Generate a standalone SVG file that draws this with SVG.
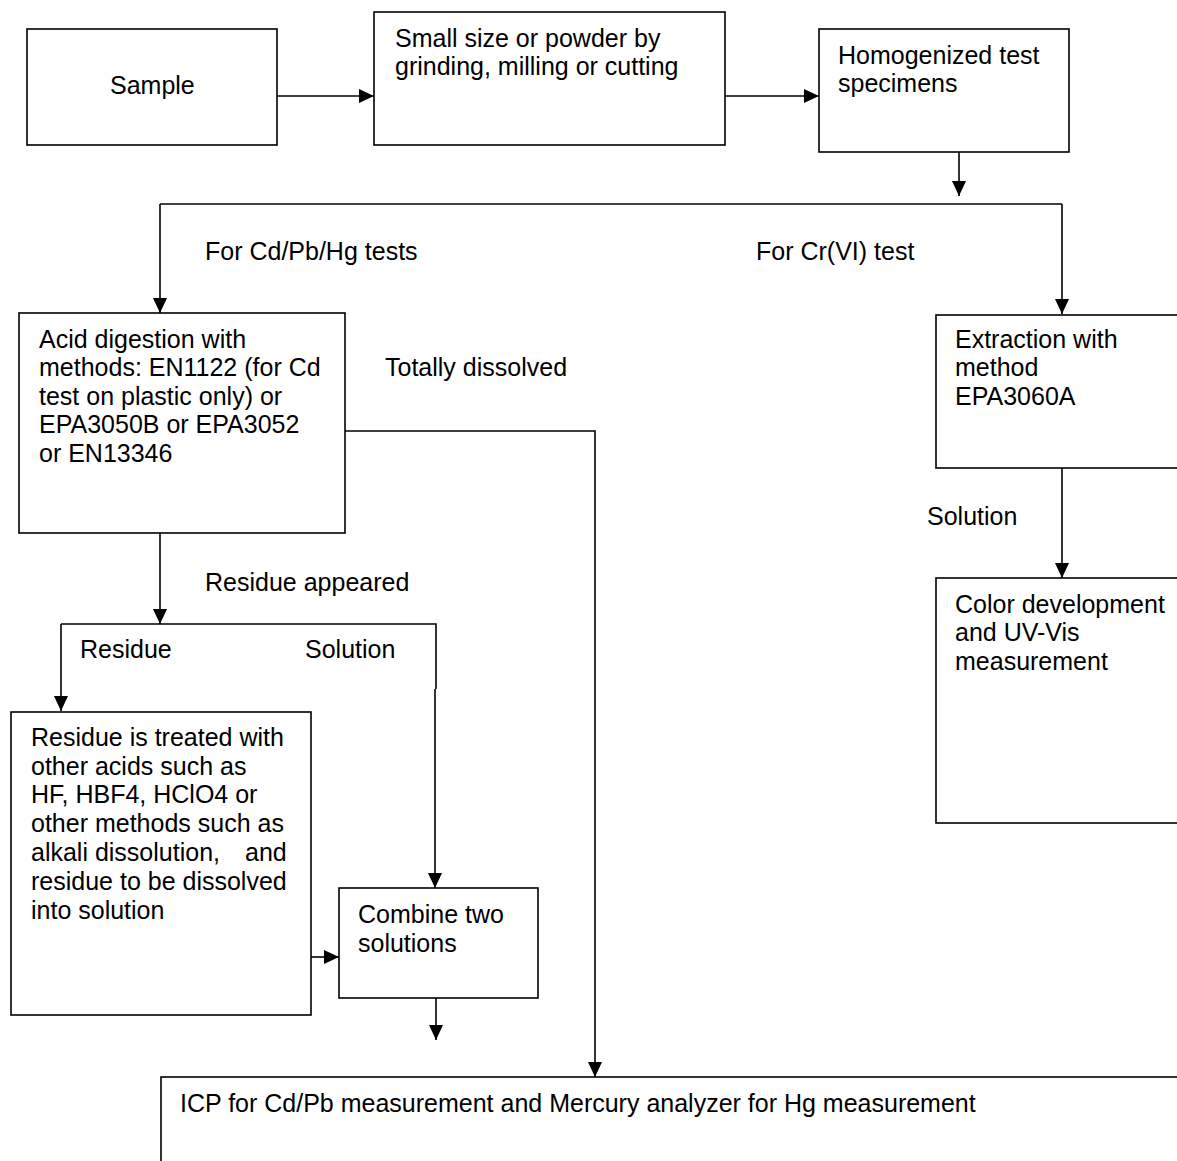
<svg xmlns="http://www.w3.org/2000/svg" width="1177" height="1161" viewBox="0 0 1177 1161">
<style>
.box{fill:#fff;stroke:#000;stroke-width:1.6}
.ln{fill:none;stroke:#000;stroke-width:1.6}
text{font-family:"Liberation Sans",Arial,sans-serif;font-size:25px;fill:#000}
</style>
<defs>
<marker id="ah" markerUnits="userSpaceOnUse" markerWidth="16" markerHeight="14" refX="15" refY="7" orient="auto">
<path d="M0,0 L15,7 L0,14 Z" fill="#000"/>
</marker>
</defs>
<rect width="1177" height="1161" fill="#fff"/>
<g id="connectors">
<line class="ln" x1="277" y1="96" x2="374" y2="96" marker-end="url(#ah)"/>
<line class="ln" x1="725" y1="96" x2="819" y2="96" marker-end="url(#ah)"/>
<line class="ln" x1="959" y1="152" x2="959" y2="196" marker-end="url(#ah)"/>
<line class="ln" x1="160" y1="204" x2="1062" y2="204"/>
<line class="ln" x1="160" y1="204" x2="160" y2="313" marker-end="url(#ah)"/>
<line class="ln" x1="1062" y1="204" x2="1062" y2="314" marker-end="url(#ah)"/>
<polyline class="ln" points="345,431 595,431 595,1077" marker-end="url(#ah)"/>
<line class="ln" x1="1062" y1="468" x2="1062" y2="578" marker-end="url(#ah)"/>
<line class="ln" x1="160" y1="533" x2="160" y2="624" marker-end="url(#ah)"/>
<polyline class="ln" points="61,624 436,624 436,689"/>
<line class="ln" x1="61" y1="624" x2="61" y2="711" marker-end="url(#ah)"/>
<line class="ln" x1="435" y1="689" x2="435" y2="888" marker-end="url(#ah)"/>
<line class="ln" x1="311" y1="957" x2="339" y2="957" marker-end="url(#ah)"/>
<line class="ln" x1="436" y1="998" x2="436" y2="1040" marker-end="url(#ah)"/>
<text x="205" y="259.5">For Cd/Pb/Hg tests</text>
<text x="756" y="259.5">For Cr(VI) test</text>
<text x="385" y="375.5">Totally dissolved</text>
<text x="927" y="524.5">Solution</text>
<text x="205" y="590.5">Residue appeared</text>
<text x="80" y="657.5">Residue</text>
<text x="305" y="657.5">Solution</text>
</g>
<g id="sample">
<rect class="box" x="27" y="29" width="250" height="116"/>
<text x="110" y="93.5">Sample</text>
</g>
<g id="grinding">
<rect class="box" x="374" y="12" width="351" height="133"/>
<text x="395" y="46.5">Small size or powder by</text>
<text x="395" y="74.5">grinding, milling or cutting</text>
</g>
<g id="homogenized">
<rect class="box" x="819" y="29" width="250" height="123"/>
<text x="838" y="63.5">Homogenized test</text>
<text x="838" y="91.5">specimens</text>
</g>
<g id="acid-digestion">
<rect class="box" x="19" y="313" width="326" height="220"/>
<text x="39" y="347.5">Acid digestion with</text>
<text x="39" y="376">methods: EN1122 (for Cd</text>
<text x="39" y="404.5">test on plastic only) or</text>
<text x="39" y="433">EPA3050B or EPA3052</text>
<text x="39" y="461.5">or EN13346</text>
</g>
<g id="extraction">
<rect class="box" x="936" y="315" width="250" height="153"/>
<text x="955" y="347.5">Extraction with</text>
<text x="955" y="376">method</text>
<text x="955" y="404.5">EPA3060A</text>
</g>
<g id="color-development">
<rect class="box" x="936" y="578" width="250" height="245"/>
<text x="955" y="612.5">Color development</text>
<text x="955" y="641">and UV-Vis</text>
<text x="955" y="669.5">measurement</text>
</g>
<g id="residue-treatment">
<rect class="box" x="11" y="712" width="300" height="303"/>
<text x="31" y="745.5">Residue is treated with</text>
<text x="31" y="774.5">other acids such as</text>
<text x="31" y="803">HF, HBF4, HClO4 or</text>
<text x="31" y="832">other methods such as</text>
<text x="31" y="860.5">alkali dissolution,<tspan x="245">and</tspan></text>
<text x="31" y="889.5">residue to be dissolved</text>
<text x="31" y="918.5">into solution</text>
</g>
<g id="combine">
<rect class="box" x="339" y="888" width="199" height="110"/>
<text x="358" y="922.5">Combine two</text>
<text x="358" y="951.5">solutions</text>
</g>
<g id="icp">
<rect class="box" x="161" y="1077" width="1030" height="100"/>
<text x="180" y="1111.5">ICP for Cd/Pb measurement and Mercury analyzer for Hg measurement</text>
</g>
</svg>
